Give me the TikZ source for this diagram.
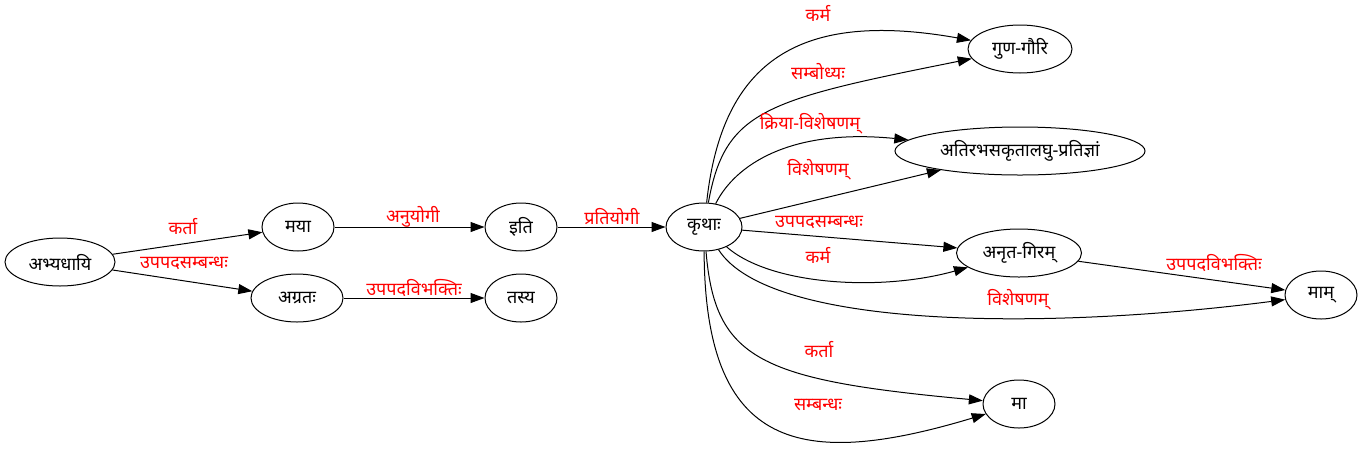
\documentclass[tikz,border=0pt]{standalone}
\usepackage{fontspec}
\newfontfamily\deva[Script=Devanagari]{Noto Sans}
\usepackage{tikz}
\usetikzlibrary{shapes.geometric, arrows.meta}
\definecolor{relred}{RGB}{255, 0, 0}
\tikzset{
  word/.style={ellipse, draw, line width=1pt, minimum height=48pt, inner sep=0pt,
    font=\deva\fontsize{18}{20}\selectfont},
  rel/.style={-{Triangle[length=14pt, width=10pt]}, line width=1pt},
  lbl/.style={text=relred, inner sep=0pt, font=\deva\fontsize{18}{20}\selectfont}
}

\begin{document}
\begin{tikzpicture}[x=1pt, y=-1pt]
  \useasboundingbox (0,0) rectangle (1362,448);

  % Left: the first clause
  \node[word, minimum width=110pt] (abhy) at (60, 262) {अभ्यधायि};
  \node[word, minimum width=72pt] (maya) at (298, 227) {मया};
  \node[word, minimum width=92pt] (agratah) at (297, 298) {अग्रतः};
  \node[word, minimum width=72pt] (iti) at (521, 227) {इति};
  \node[word, minimum width=72pt] (tasya) at (521, 298) {तस्य};
  \node[word, minimum width=76pt] (krthah) at (704, 227) {कृथाः};

  % Right: the dependents of the verb
  \node[word, minimum width=104pt] (gunagauri) at (1020, 49) {गुण-गौरि};
  \node[word, minimum width=250pt] (atirabhasa) at (1020, 151) {अतिरभसकृतालघु-प्रतिज्ञां};
  \node[word, minimum width=125pt] (anrta) at (1019, 253) {अनृत-गिरम्};
  \node[word, minimum width=72pt] (mam) at (1321, 295) {माम्};
  \node[word, minimum width=72pt] (ma) at (1019, 404) {मा};

  % Relations
  \draw[rel] (abhy) -- (maya);
  \draw[rel] (abhy) -- (agratah);
  \draw[rel] (maya) -- (iti);
  \draw[rel] (agratah) -- (tasya);
  \draw[rel] (iti) -- (krthah);
  \draw[rel] (krthah) .. controls (722, 60) and (800, 10) .. (gunagauri);
  \draw[rel] (krthah) .. controls (725, 110) and (765, 100) .. (gunagauri);
  \draw[rel] (krthah) .. controls (735, 165) and (790, 128) .. (atirabhasa);
  \draw[rel] (krthah) -- (atirabhasa);
  \draw[rel] (krthah) -- (anrta);
  \draw[rel] (krthah) .. controls (770, 285) and (880, 292) .. (anrta);
  \draw[rel] (krthah) .. controls (770, 330) and (1050, 330) .. (mam);
  \draw[rel] (anrta) -- (mam);
  \draw[rel] (krthah) .. controls (715, 360) and (760, 380) .. (ma);
  \draw[rel] (krthah) .. controls (705, 450) and (800, 470) .. (ma);

  % Relation labels
  \node[lbl] (lkarta) at (183, 227) {कर्ता};
  \node[lbl] (lupapada) at (184, 263) {उपपदसम्बन्धः};
  \node[lbl] (lanuyogi) at (413, 217) {अनुयोगी};
  \node[lbl] (lvibhakti) at (414, 288) {उपपदविभक्तिः};
  \node[lbl] (lpratiyogi) at (612, 217) {प्रतियोगी};
  \node[lbl] (lkarma) at (818, 13) {कर्म};
  \node[lbl] (lsambodhya) at (818, 72) {सम्बोध्यः};
  \node[lbl] (lkriya) at (810, 124) {क्रिया-विशेषणम्};
  \node[lbl] (lvisesana) at (818, 170) {विशेषणम्};
  \node[lbl] (lupapadab) at (819, 222) {उपपदसम्बन्धः};
  \node[lbl] (lkarmab) at (818, 255) {कर्म};
  \node[lbl] (lvisesanab) at (1018, 300) {विशेषणम्};
  \node[lbl] (lvibhaktib) at (1214, 263) {उपपदविभक्तिः};
  \node[lbl] (lkartab) at (819, 350) {कर्ता};
  \node[lbl] (lsambandha) at (818, 405) {सम्बन्धः};
\end{tikzpicture}
\end{document}
